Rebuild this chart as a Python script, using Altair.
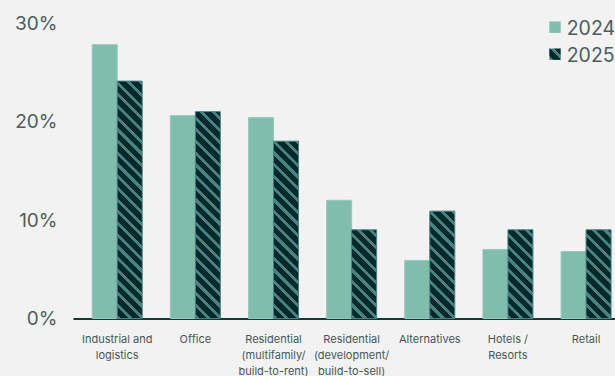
import altair as alt

# ---- data ----
categories = [
    "Industrial and|logistics",
    "Office",
    "Residential|(multifamily/|build-to-rent)",
    "Residential|(development/|build-to-sell)",
    "Alternatives",
    "Hotels /|Resorts",
    "Retail",
]
years = ["2024", "2025"]
values_2024 = [27.8, 20.6, 20.4, 12.0, 5.9, 7.0, 6.8]
values_2025 = [24.1, 21.0, 18.0, 9.0, 10.9, 9.0, 9.0]
y_ticks = [0, 10, 20, 30]

# ---- layout / style ----
PLOT_W, PLOT_H = 542, 295.5
Y_MAX = 30
PAD_IN, PAD_OUT, ALIGN = 0.36, 0.148, 0.83
BG = "#f2f2f2"
C2024 = "#80bdad"
DARK = "#00292b"
STRIPE = "#4a8080"
EDGE_2024 = "#95c9bb"
AXIS_C = "#12393a"
YLAB_C = "#4d5c5c"
XLAB_C = "#485656"
FONT = "Inter"
PERIOD = 11.7   # horizontal stripe period in px
FRAC = 0.36     # share of the period that is light
SWATCH = 11.4

step = PLOT_W / (len(categories) - PAD_IN + 2 * PAD_OUT)
bar_w = step * (1 - PAD_IN) / len(years)
px_per_unit = PLOT_H / Y_MAX


def stripe_gradient(w, h):
    """Diagonal '\\' hatching as a hard-stop linear gradient in bbox units."""
    L = w + h
    d = w * w + h * h
    stops = []
    k = 0
    while k * PERIOD < L:
        a = k * PERIOD / L
        b = min((k * PERIOD + PERIOD * FRAC) / L, 1)
        c = min((k + 1) * PERIOD / L, 1)
        stops += [
            {"offset": round(a, 5), "color": STRIPE},
            {"offset": round(b, 5), "color": STRIPE},
            {"offset": round(b, 5), "color": DARK},
            {"offset": round(c, 5), "color": DARK},
        ]
        k += 1
    return {
        "gradient": "linear",
        "x1": 0, "y1": 1,
        "x2": w * (w + h) / d, "y2": w * (w - h) / d,
        "stops": stops,
    }


records = []
for cat, v24, v25 in zip(categories, values_2024, values_2025):
    records.append({"category": cat, "year": years[0], "value": v24,
                    "paint": C2024, "edge": EDGE_2024})
    records.append({"category": cat, "year": years[1], "value": v25,
                    "paint": stripe_gradient(bar_w, v25 * px_per_unit),
                    "edge": STRIPE})

bars = alt.Chart(alt.Data(values=records)).mark_bar(strokeWidth=1).encode(
    x=alt.X(
        "category:N",
        sort=categories,
        scale=alt.Scale(domain=categories, paddingInner=PAD_IN,
                        paddingOuter=PAD_OUT, align=ALIGN),
        axis=alt.Axis(
            title=None,
            labelExpr="split(datum.label, '|')",
            labelAngle=0,
            labelFont=FONT,
            labelFontSize=11,
            labelLineHeight=16,
            labelColor=XLAB_C,
            labelPadding=15,
            labelLimit=300,
            ticks=False,
            domainColor=AXIS_C,
            domainWidth=2,
            grid=False,
        ),
    ),
    xOffset=alt.XOffset("year:N", sort=years,
                        scale=alt.Scale(domain=years, paddingInner=0, paddingOuter=0)),
    y=alt.Y(
        "value:Q",
        scale=alt.Scale(domain=[0, Y_MAX], nice=False, zero=True),
        axis=alt.Axis(
            title=None,
            values=y_ticks,
            labelExpr="datum.value + '%'",
            labelFont=FONT,
            labelFontSize=19,
            labelColor=YLAB_C,
            labelPadding=16,
            ticks=False,
            domain=False,
            grid=False,
        ),
    ),
    fill=alt.Fill("paint:N", scale=None),
    stroke=alt.Stroke("edge:N", scale=None),
)

# ---- hand-built legend (so the 2025 swatch can be hatched) ----
legend_records = [
    {"year": years[0], "paint": C2024},
    {"year": years[1], "paint": stripe_gradient(SWATCH, SWATCH)},
]
legend_y = alt.Y("year:N", sort=years,
                 scale=alt.Scale(type="point", domain=years, range=[4.2, 31.2], padding=0),
                 axis=None)

legend_sym = alt.Chart(alt.Data(values=legend_records)).mark_square(
    size=SWATCH * SWATCH, strokeWidth=0, opacity=1
).encode(
    x=alt.value(482),
    y=legend_y,
    fill=alt.Fill("paint:N", scale=None),
)

legend_txt = alt.Chart(alt.Data(values=legend_records)).mark_text(
    align="left", baseline="middle", font=FONT, fontSize=19.5, color=YLAB_C, dy=1.5
).encode(
    x=alt.value(493.7),
    y=legend_y,
    text="year:N",
)

chart = alt.layer(bars, legend_sym, legend_txt).resolve_scale(
    y="independent"
).properties(
    width=PLOT_W,
    height=PLOT_H,
    padding={"left": 73, "top": 23, "right": 0, "bottom": 57.5},
    autosize="none",
).configure(background=BG).configure_view(strokeWidth=0)

chart.save("out.html", embed_options={"renderer": "svg", "actions": False})
